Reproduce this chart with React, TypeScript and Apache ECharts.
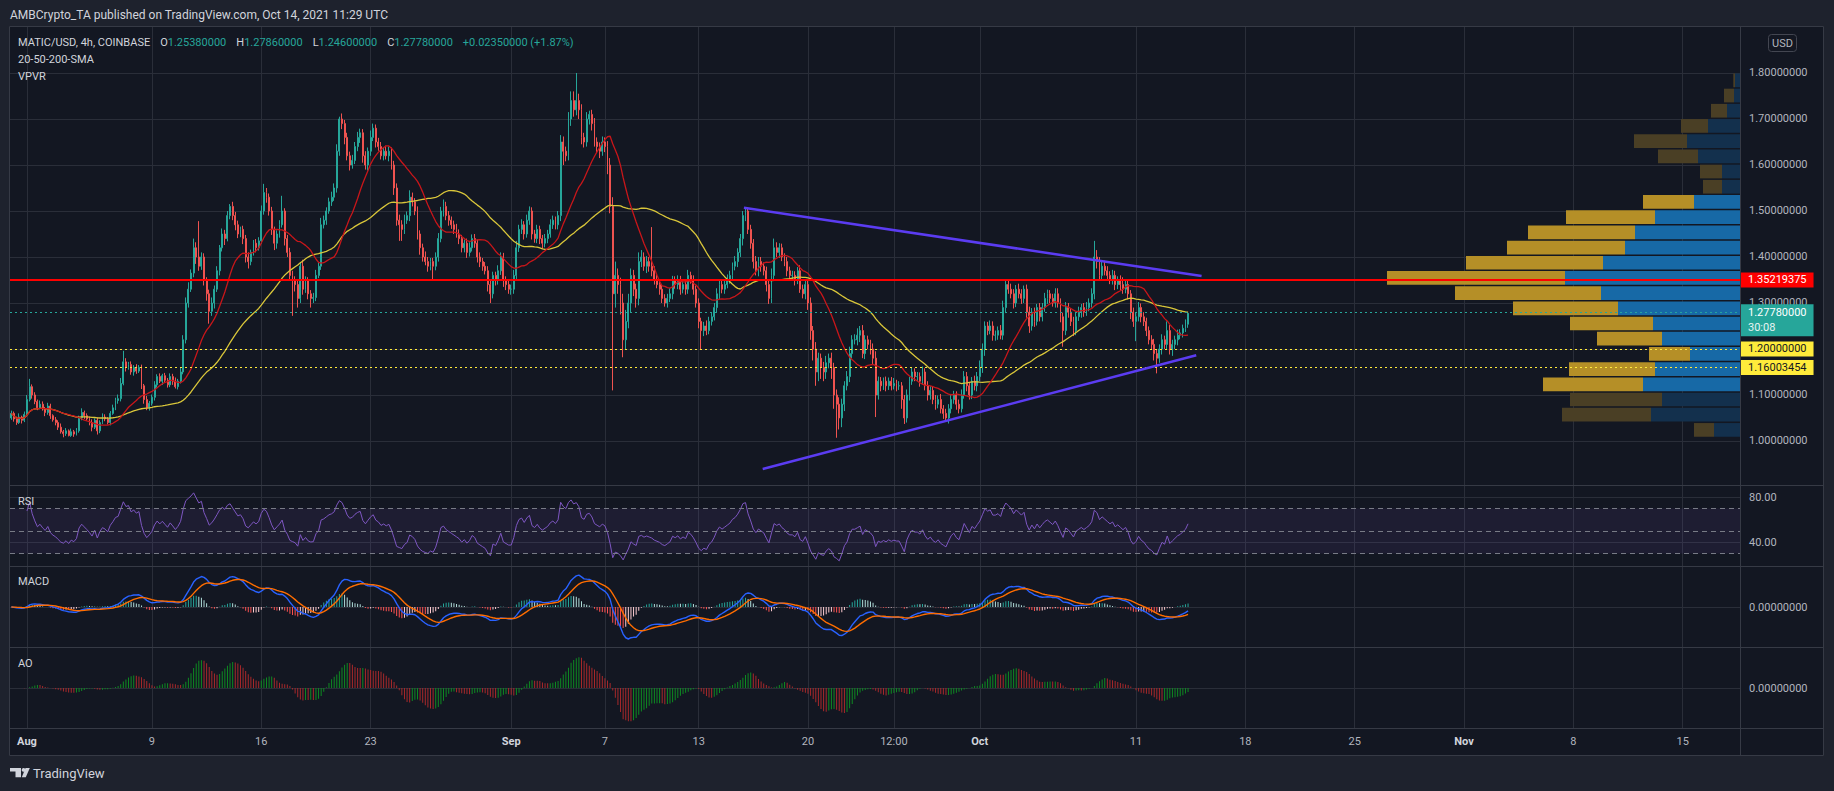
import { useEffect, useRef } from "react";
import * as echarts from "echarts";

const FONT = "Roboto, 'Liberation Sans', 'DejaVu Sans', sans-serif";

// ---------------- texts ----------------
const publishLine = "AMBCrypto_TA published on TradingView.com, Oct 14, 2021 11:29 UTC";
const symbolTitle = "MATIC/USD, 4h, COINBASE";
const indicatorNames = ["20-50-200-SMA", "VPVR"];
const paneNames = ["RSI", "MACD", "AO"];
const countdown = "30:08";

// ---------------- time ----------------
// x unit: days since 2021-08-01 00:00 UTC
const firstBarDay = -1; // 2021-07-31 00:00 UTC
const barsPerDay = 6; // 4h bars
const viewStartDay = -1.088;
const viewEndDay = 109.67;
const timeTicks = [0, 8, 15, 22, 31, 37, 43, 50, 55.5, 61, 71, 78, 85, 92, 99, 106];
const timeLabels = ["Aug", "9", "16", "23", "Sep", "7", "13", "20", "12:00", "Oct", "11", "18", "25", "Nov", "8", "15"];
const monthLabels = ["Aug", "Sep", "Oct", "Nov"];

// ---------------- prices (4h closes, 6 per day) ----------------
const closes = [
  1.060, 1.048, 1.040, 1.052, 1.045, 1.058, // Jul 31
  1.090, 1.118, 1.100, 1.086, 1.072, 1.080, // Aug 1
  1.070, 1.062, 1.076, 1.055, 1.046, 1.040,
  1.030, 1.020, 1.016, 1.022, 1.012, 1.020,
  1.015, 1.022, 1.050, 1.062, 1.055, 1.048,
  1.040, 1.030, 1.045, 1.022, 1.040, 1.052,
  1.048, 1.040, 1.060, 1.072, 1.088, 1.092,
  1.125, 1.172, 1.160, 1.166, 1.150, 1.160,
  1.152, 1.160, 1.120, 1.090, 1.072, 1.082,
  1.095, 1.122, 1.140, 1.130, 1.142, 1.132, // Aug 9
  1.122, 1.140, 1.130, 1.118, 1.130, 1.150,
  1.220, 1.300, 1.330, 1.365, 1.420, 1.400,
  1.380, 1.400, 1.350, 1.320, 1.282, 1.300,
  1.330, 1.370, 1.420, 1.450, 1.440, 1.490,
  1.510, 1.490, 1.470, 1.450, 1.460, 1.440,
  1.400, 1.390, 1.410, 1.430, 1.420, 1.435,
  1.500, 1.540, 1.530, 1.500, 1.460, 1.430, // Aug 16
  1.450, 1.470, 1.500, 1.440, 1.410, 1.360,
  1.350, 1.340, 1.310, 1.380, 1.330, 1.350,
  1.320, 1.310, 1.312, 1.360, 1.380, 1.470,
  1.480, 1.500, 1.520, 1.530, 1.550, 1.630,
  1.700, 1.690, 1.660, 1.620, 1.600, 1.610,
  1.640, 1.660, 1.670, 1.620, 1.600, 1.630,
  1.660, 1.680, 1.650, 1.640, 1.620, 1.630, // Aug 23
  1.620, 1.630, 1.600, 1.550, 1.480, 1.470,
  1.460, 1.480, 1.490, 1.530, 1.520, 1.500,
  1.450, 1.420, 1.400, 1.390, 1.380, 1.390,
  1.380, 1.400, 1.440, 1.500, 1.510, 1.490,
  1.480, 1.470, 1.460, 1.450, 1.440, 1.420,
  1.430, 1.410, 1.420, 1.440, 1.430, 1.400,
  1.390, 1.380, 1.370, 1.340, 1.320, 1.360,
  1.350, 1.370, 1.400, 1.350, 1.340, 1.330, // Aug 31
  1.330, 1.360, 1.420, 1.460, 1.470, 1.450, // Sep 1
  1.480, 1.500, 1.450, 1.440, 1.460, 1.440,
  1.430, 1.440, 1.450, 1.470, 1.480, 1.470,
  1.490, 1.650, 1.630, 1.620, 1.700, 1.740,
  1.720, 1.740, 1.720, 1.660, 1.650, 1.700,
  1.710, 1.690, 1.650, 1.640, 1.630, 1.650,
  1.640, 1.600, 1.510, 1.320, 1.360, 1.340, // Sep 7
  1.300, 1.220, 1.260, 1.300, 1.360, 1.330,
  1.310, 1.390, 1.400, 1.380, 1.390, 1.380,
  1.370, 1.350, 1.340, 1.330, 1.310, 1.300,
  1.310, 1.320, 1.350, 1.340, 1.350, 1.330,
  1.340, 1.330, 1.360, 1.350, 1.330, 1.300,
  1.260, 1.240, 1.250, 1.240, 1.260, 1.270, // Sep 13
  1.290, 1.320, 1.340, 1.330, 1.340, 1.350,
  1.360, 1.380, 1.390, 1.410, 1.440, 1.490,
  1.500, 1.460, 1.430, 1.390, 1.370, 1.390,
  1.380, 1.370, 1.340, 1.310, 1.360, 1.420,
  1.410, 1.420, 1.400, 1.390, 1.370, 1.360,
  1.360, 1.350, 1.370, 1.330, 1.320, 1.340,
  1.300, 1.240, 1.200, 1.150, 1.180, 1.160, // Sep 20
  1.150, 1.170, 1.180, 1.160, 1.100, 1.080,
  1.050, 1.080, 1.120, 1.140, 1.190, 1.220,
  1.220, 1.230, 1.240, 1.190, 1.220, 1.210,
  1.200, 1.180, 1.100, 1.130, 1.120, 1.130,
  1.120, 1.130, 1.120, 1.125, 1.120, 1.120,
  1.090, 1.050, 1.100, 1.130, 1.150, 1.140,
  1.140, 1.130, 1.150, 1.120, 1.100, 1.110, // Sep 27
  1.090, 1.080, 1.090, 1.070, 1.060, 1.050,
  1.070, 1.090, 1.100, 1.080, 1.070, 1.100,
  1.140, 1.120, 1.100, 1.130, 1.120, 1.140,
  1.160, 1.200, 1.250, 1.240, 1.250, 1.230, // Oct 1
  1.230, 1.240, 1.230, 1.290, 1.340, 1.330,
  1.320, 1.300, 1.330, 1.320, 1.310, 1.330,
  1.280, 1.250, 1.280, 1.260, 1.290, 1.270,
  1.290, 1.310, 1.320, 1.310, 1.300, 1.320,
  1.300, 1.270, 1.240, 1.290, 1.280, 1.260,
  1.240, 1.270, 1.280, 1.290, 1.280, 1.290,
  1.300, 1.320, 1.400, 1.390, 1.360, 1.380, // Oct 8
  1.370, 1.360, 1.350, 1.360, 1.340, 1.350,
  1.340, 1.330, 1.340, 1.320, 1.280, 1.260,
  1.270, 1.290, 1.270, 1.260, 1.240, 1.220, // Oct 11
  1.210, 1.190, 1.180, 1.200, 1.220, 1.210,
  1.240, 1.200, 1.210, 1.220, 1.230, 1.235,
  1.245, 1.2543, 1.2778, // Oct 14
];

// wick lengths above / below the body, in thousandths of a dollar
const wickUp = [
  6, 4, 5, 8, 3, 6, 10, 17, 5, 6, 4, 8, 6, 4, 7, 5, 3, 6, 5, 8, 4, 6, 3, 7,
  4, 6, 5, 9, 4, 5, 5, 7, 4, 6, 5, 8, 6, 4, 5, 7, 6, 9, 12, 24, 8, 6, 7, 5,
  7, 5, 6, 4, 8, 5, 6, 8, 5, 7, 4, 6, 5, 7, 6, 8, 5, 9, 10, 12, 15, 8, 20, 12,
  78, 10, 8, 6, 9, 12, 8, 10, 6, 12, 9, 10, 5, 10, 8, 9, 6, 8, 8, 10, 6, 7, 9, 8,
  12, 19, 10, 8, 9, 6, 8, 10, 33, 6, 8, 10, 10, 8, 12, 9, 14, 8, 6, 8, 10, 12, 9, 15,
  10, 8, 9, 12, 10, 15, 5, 12, 8, 10, 9, 12, 10, 12, 9, 8, 10, 8, 15, 10, 8, 9, 10, 8,
  12, 10, 8, 9, 10, 12, 10, 12, 9, 15, 10, 8, 10, 8, 9, 12, 10, 8, 8, 10, 12, 9, 15, 10,
  10, 8, 9, 12, 10, 8, 8, 10, 12, 9, 10, 8, 10, 8, 9, 10, 12, 8, 8, 12, 10, 9, 8, 10,
  10, 12, 15, 10, 12, 8, 12, 10, 8, 9, 10, 8, 8, 10, 9, 12, 10, 8, 10, 15, 12, 10, 15, 20,
  20, 60, 15, 12, 10, 15, 8, 10, 12, 10, 9, 12, 10, 12, 15, 20, 30, 15, 15, 20, 25, 20, 15, 12,
  12, 20, 15, 10, 12, 10, 85, 10, 12, 8, 10, 9, 10, 12, 9, 8, 10, 9, 10, 9, 12, 8, 10, 8,
  10, 8, 9, 12, 10, 8, 10, 12, 9, 8, 10, 12, 10, 8, 12, 9, 10, 10, 6, 8, 10, 9, 12, 10,
  10, 8, 9, 12, 15, 20, 12, 10, 9, 8, 10, 9, 10, 9, 8, 12, 10, 9, 10, 12, 10, 15, 12, 10,
  12, 15, 10, 12, 10, 12, 15, 12, 10, 12, 15, 10, 12, 15, 10, 12, 10, 9, 10, 12, 15, 10, 9, 8,
  10, 8, 9, 12, 8, 10, 8, 10, 12, 9, 10, 8, 10, 9, 12, 8, 10, 9, 8, 10, 9, 12, 8, 10,
  10, 12, 9, 8, 10, 12, 12, 10, 8, 9, 12, 10, 15, 12, 10, 9, 12, 10, 10, 9, 12, 15, 10, 12,
  12, 10, 9, 12, 10, 8, 10, 12, 9, 10, 8, 10, 10, 12, 9, 8, 10, 12, 12, 10, 9, 12, 10, 9,
  10, 9, 12, 8, 10, 12, 10, 12, 35, 15, 10, 12, 12, 10, 9, 12, 10, 8, 10, 16, 10, 9, 8, 10,
  10, 12, 9, 10, 8, 9, 10, 12, 8, 10, 12, 9, 20, 12, 10, 9, 12, 8, 8, 10, 0.8,
];
const wickDown = [
  4, 6, 5, 3, 7, 4, 5, 4, 8, 6, 5, 3, 4, 8, 5, 7, 4, 6, 6, 4, 8, 5, 2, 3,
  6, 3, 4, 5, 7, 4, 6, 9, 4, 8, 5, 3, 5, 4, 6, 3, 5, 7, 6, 4, 9, 5, 6, 8,
  6, 4, 7, 9, 5, 6, 5, 7, 6, 4, 8, 5, 6, 5, 8, 4, 6, 5, 5, 8, 10, 6, 9, 15,
  10, 8, 12, 15, 27, 10, 12, 6, 10, 8, 14, 6, 8, 10, 12, 9, 7, 12, 12, 15, 8, 7, 10, 6,
  6, 8, 12, 10, 12, 15, 12, 8, 6, 15, 10, 12, 78, 15, 20, 10, 12, 8, 12, 20, 10, 8, 6, 8,
  8, 10, 6, 9, 8, 10, 10, 12, 15, 10, 12, 8, 8, 10, 12, 15, 10, 12, 10, 8, 12, 9, 8, 10,
  8, 12, 10, 15, 12, 35, 25, 10, 8, 12, 10, 9, 12, 15, 10, 8, 12, 9, 30, 9, 10, 8, 12, 10,
  12, 9, 10, 8, 12, 10, 10, 12, 9, 8, 10, 12, 12, 10, 8, 15, 20, 10, 12, 10, 9, 15, 12, 10,
  12, 10, 8, 9, 10, 12, 8, 10, 12, 9, 10, 12, 12, 9, 10, 8, 9, 10, 10, 12, 30, 12, 10, 15,
  15, 12, 20, 15, 12, 10, 12, 15, 10, 12, 15, 10, 12, 20, 15, 210, 30, 20, 25, 38, 20, 15, 20, 15,
  20, 15, 12, 10, 15, 12, 12, 10, 8, 12, 10, 8, 10, 8, 12, 9, 10, 12, 9, 12, 10, 8, 12, 10,
  15, 40, 12, 10, 8, 9, 8, 10, 12, 9, 10, 8, 8, 10, 9, 12, 10, 15, 12, 10, 12, 15, 10, 12,
  12, 10, 15, 12, 10, 8, 10, 12, 9, 10, 12, 10, 10, 12, 9, 8, 10, 12, 15, 20, 25, 30, 20, 25,
  20, 15, 12, 25, 30, 73, 25, 20, 15, 10, 12, 10, 10, 12, 15, 10, 12, 10, 12, 15, 48, 10, 12, 9,
  12, 9, 10, 8, 12, 9, 20, 13, 10, 12, 8, 10, 10, 12, 8, 10, 12, 10, 10, 12, 9, 10, 12, 8,
  12, 10, 9, 12, 10, 8, 8, 12, 10, 9, 10, 12, 10, 12, 15, 10, 8, 12, 12, 10, 9, 10, 12, 10,
  10, 12, 9, 10, 12, 10, 12, 15, 10, 12, 9, 10, 10, 9, 12, 10, 8, 10, 10, 12, 35, 10, 12, 10,
  12, 10, 9, 12, 10, 8, 8, 10, 12, 15, 12, 10, 10, 12, 9, 10, 12, 10, 12, 10, 9, 12, 15, 12,
  43, 10, 12, 10, 12, 10, 12, 15, 33, 10, 12, 10, 10, 12, 15, 10, 12, 9, 10, 8, 7.8,
];
const firstOpen = 1.05;
const lastBarOpen = 1.2538;

// ---------------- drawn levels ----------------
const resistanceLevel = 1.35219375;
const supportLevels = [1.2, 1.16003454];
const trendUpper = [[45.9, 1.507], [75.2, 1.3587]];
const trendLower = [[47.1, 0.939], [74.86, 1.1863]];

// ---------------- axes ----------------
const priceMin = 0.9043;
const priceMax = 1.9;
const priceTicks = [1.0, 1.1, 1.2, 1.3, 1.4, 1.5, 1.6, 1.7, 1.8];
const rsiMin = 18.93;
const rsiMax = 90.04;
const rsiTicks = [40, 80];
const rsiBandLevels = [70, 50, 30];

// ---------------- volume profile (24 rows, bottom -> top) ----------------
const vpvrUpVol = [26, 89, 78, 97, 85, 50, 78, 87, 122, 139, 175, 137, 115, 105, 85, 46, 18, 18, 42, 53, 32, 13, 6, 5];
const vpvrDownVol = [20, 89, 92, 100, 86, 41, 65, 83, 105, 146, 178, 137, 118, 107, 89, 51, 19, 22, 40, 53, 27, 16, 10, 1.7];
const vpvrInValueArea = [0, 0, 0, 1, 1, 1, 1, 1, 1, 1, 1, 1, 1, 1, 1, 1, 0, 0, 0, 0, 0, 0, 0, 0];

const COL = {
  frame: "#1e222d",
  grid: "#2a2e39",
  sep: "#363a45",
  text: "#d1d4dc",
  axisText: "#b2b5be",
  up: "#26a69a",
  down: "#ef5350",
  sma20: "#c8161a",
  sma50: "#d9c63a",
  trend: "#5b3cf2",
  rsi: "#7e57c2",
  macd: "#2962ff",
  signal: "#ff6d00",
  aoUp: "#0e8a22",
  aoDown: "#a8292b",
  vpBlue: "#1769a6",
  vpGold: "#b58f27",
  vpBlueDim: "#13304d",
  vpGoldDim: "#4a3f25",
};

function sma(v: number[], n: number) {
  const out: number[] = [];
  let s = 0;
  for (let i = 0; i < v.length; i++) {
    s += v[i];
    if (i >= n) s -= v[i - n];
    out.push(s / Math.min(i + 1, n));
  }
  return out;
}
function ema(v: number[], n: number) {
  const k = 2 / (n + 1);
  const out: number[] = [];
  v.forEach((x, i) => out.push(i === 0 ? x : out[i - 1] + k * (x - out[i - 1])));
  return out;
}
function rsiCalc(v: number[], n: number) {
  const out: (number | null)[] = [null];
  let ag = 0, al = 0;
  for (let i = 1; i < v.length; i++) {
    const ch = v[i] - v[i - 1];
    const g = Math.max(ch, 0), l = Math.max(-ch, 0);
    if (i <= n) { ag = (ag * (i - 1) + g) / i; al = (al * (i - 1) + l) / i; }
    else { ag = (ag * (n - 1) + g) / n; al = (al * (n - 1) + l) / n; }
    out.push(al === 0 ? 100 : 100 - 100 / (1 + ag / al));
  }
  return out;
}

function buildOption() {
  const n = closes.length;
  const t = closes.map((_, i) => firstBarDay + i / barsPerDay);
  const opens = closes.map((c, i) => (i === n - 1 ? lastBarOpen : i === 0 ? firstOpen : closes[i - 1]));
  const highs = closes.map((c, i) => Math.max(opens[i], c) + wickUp[i] / 1000);
  const lows = closes.map((c, i) => Math.min(opens[i], c) - wickDown[i] / 1000);
  const candleData = closes.map((c, i) => [t[i], opens[i], c, lows[i], highs[i]]);
  const lastClose = closes[n - 1];
  const prevClose = closes[n - 2];
  const change = lastClose - prevClose;
  const pct = (change / prevClose) * 100;

  const sma20 = sma(closes, 20);
  const sma50 = sma(closes, 50);

  const rsi = rsiCalc(closes, 14);
  const e12 = ema(closes, 12), e26 = ema(closes, 26);
  const macd = e12.map((v, i) => v - e26[i]);
  const signal = ema(macd, 9);
  const hist = macd.map((v, i) => v - signal[i]);
  const median = highs.map((h, i) => (h + lows[i]) / 2);
  const s5 = sma(median, 5), s34 = sma(median, 34);
  const ao = s5.map((v, i) => v - s34[i]);

  const macdRange = Math.max(...macd.map(Math.abs), ...signal.map(Math.abs)) * 1.25;
  const aoRange = Math.max(...ao.map(Math.abs)) * 1.2;

  const minLow = Math.min(...lows);
  const maxHigh = Math.max(...highs);
  const rows = vpvrUpVol.length;
  const step = (maxHigh - minLow) / rows;
  const vpData = vpvrUpVol.map((u, k) => [minLow + k * step, minLow + (k + 1) * step, u, vpvrDownVol[k], vpvrInValueArea[k]]);

  const axisLbl = { color: COL.axisText, fontSize: 11, fontFamily: FONT, margin: 9 };

  const timeAxis = (gridIndex: number, labels: boolean) => ({
    type: "value",
    gridIndex,
    min: viewStartDay,
    max: viewEndDay,
    axisLine: { show: false, onZero: false },
    axisTick: { show: false, customValues: timeTicks },
    splitLine: { show: true, lineStyle: { color: COL.grid, width: 1 } },
    axisLabel: labels
      ? {
          show: true,
          customValues: timeTicks,
          ...axisLbl,
          margin: 8,
          formatter: (v: number) => {
            const i = timeTicks.findIndex((x) => Math.abs(x - v) < 1e-6);
            if (i < 0) return "";
            const s = timeLabels[i];
            return monthLabels.includes(s) ? `{m|${s}}` : s;
          },
          rich: { m: { fontWeight: "bold", color: COL.text, fontSize: 11, fontFamily: FONT } },
        }
      : { show: false },
  });

  const valueAxis = (gridIndex: number, min: number, max: number, ticks: number[], digits: number) => ({
    type: "value",
    gridIndex,
    position: "right",
    min,
    max,
    axisLine: { show: false },
    axisTick: { show: false, customValues: ticks },
    splitLine: { show: true, lineStyle: { color: COL.grid, width: 1 } },
    axisLabel: { ...axisLbl, customValues: ticks, formatter: (v: number) => v.toFixed(digits) },
  });

  const lvlLabel = (bg: string, fg: string, text: string) => ({
    show: true,
    position: "end",
    distance: 1,
    formatter: text,
    backgroundColor: bg,
    color: fg,
    padding: [2, 7, 2, 7],
    fontSize: 11,
    fontFamily: FONT,
  });

  const textEl = (text: string, x: number, y: number, size = 11, fill = COL.text) => ({
    type: "text",
    z: 100,
    silent: true,
    style: { text, x, y, fill, fontSize: size, fontFamily: FONT, textVerticalAlign: "middle", verticalAlign: "middle" },
  });

  const legendRich = [
    `{t|${symbolTitle}}{s|}{t|O}{v|${opens[n - 1].toFixed(8)}}{s|}{t|H}{v|${highs[n - 1].toFixed(8)}}{s|}{t|L}{v|${lows[n - 1].toFixed(8)}}{s|}{t|C}{v|${lastClose.toFixed(8)}}{s|}{v|${change >= 0 ? "+" : ""}${change.toFixed(8)} (${pct >= 0 ? "+" : ""}${pct.toFixed(2)}%)}`,
  ].join("");

  const hLine = (y: number) => ({
    type: "line",
    z: 90,
    silent: true,
    shape: { x1: 9, y1: y, x2: 1824, y2: y },
    style: { stroke: COL.sep, lineWidth: 1 },
  });

  return {
    animation: false,
    backgroundColor: "#131722",
    textStyle: { fontFamily: FONT },
    grid: [
      { left: 10, top: 27, width: 1730, height: 458, outerBoundsMode: "none" },
      { left: 10, top: 486, width: 1730, height: 80, outerBoundsMode: "none" },
      { left: 10, top: 567, width: 1730, height: 80, outerBoundsMode: "none" },
      { left: 10, top: 648, width: 1730, height: 80, outerBoundsMode: "none" },
      { left: 1380, top: 27, width: 360, height: 458, outerBoundsMode: "none" },
    ],
    xAxis: [
      timeAxis(0, false),
      timeAxis(1, false),
      timeAxis(2, false),
      timeAxis(3, true),
      { type: "value", gridIndex: 4, min: 0, max: 360, inverse: true, show: false, axisLine: { onZero: false } },
    ],
    yAxis: [
      valueAxis(0, priceMin, priceMax, priceTicks, 8),
      valueAxis(1, rsiMin, rsiMax, rsiTicks, 2),
      valueAxis(2, -macdRange, macdRange, [0], 8),
      valueAxis(3, -aoRange, aoRange, [0], 8),
      { type: "value", gridIndex: 4, min: priceMin, max: priceMax, show: false },
    ],
    series: [
      {
        type: "custom",
        name: "VPVR",
        xAxisIndex: 4,
        yAxisIndex: 4,
        z: 1,
        silent: true,
        encode: { x: 2, y: 0 },
        data: vpData,
        renderItem: (_p: any, api: any) => {
          const lo = api.value(0), hi = api.value(1), upV = api.value(2), dnV = api.value(3), va = api.value(4);
          const right = api.coord([0, hi]);
          const bottom = api.coord([0, lo]);
          const mid = api.coord([upV, hi]);
          const left = api.coord([upV + dnV, hi]);
          const y = right[1] + 0.5;
          const h = bottom[1] - right[1] - 1.5;
          return {
            type: "group",
            children: [
              { type: "rect", shape: { x: mid[0], y, width: right[0] - mid[0], height: h }, style: { fill: va ? COL.vpBlue : COL.vpBlueDim } },
              { type: "rect", shape: { x: left[0], y, width: mid[0] - left[0], height: h }, style: { fill: va ? COL.vpGold : COL.vpGoldDim } },
            ],
          };
        },
      },
      {
        type: "candlestick",
        name: "MATIC/USD",
        xAxisIndex: 0,
        yAxisIndex: 0,
        z: 3,
        barWidth: 1.4,
        encode: { x: 0, y: [1, 2, 3, 4] },
        data: candleData,
        itemStyle: { color: COL.up, color0: COL.down, borderColor: COL.up, borderColor0: COL.down, borderWidth: 1 },
        markLine: {
          silent: true,
          symbol: ["none", "none"],
          animation: false,
          data: [
            { yAxis: supportLevels[0], lineStyle: { color: "#ffeb3b", width: 1, type: [2, 3] }, label: lvlLabel("#ffeb3b", "#131722", supportLevels[0].toFixed(8)) },
            { yAxis: supportLevels[1], lineStyle: { color: "#ffeb3b", width: 1, type: [2, 3] }, label: lvlLabel("#ffeb3b", "#131722", supportLevels[1].toFixed(8)) },
            {
              yAxis: lastClose,
              lineStyle: { color: COL.up, width: 1, type: [2, 3] },
              label: {
                show: true,
                position: "end",
                distance: 1,
                formatter: `{p|${lastClose.toFixed(8)}}\n{c|${countdown}}`,
                backgroundColor: COL.up,
                padding: [1, 7, 1, 7],
                verticalAlign: "top",
                offset: [0, -8],
                rich: {
                  p: { color: "#ffffff", fontSize: 11, lineHeight: 15, fontFamily: FONT },
                  c: { color: "#e6f4f2", fontSize: 11, lineHeight: 15, fontFamily: FONT },
                },
              },
            },
            { yAxis: resistanceLevel, lineStyle: { color: "#ff0000", width: 2, type: "solid" }, label: lvlLabel("#ff0000", "#ffffff", resistanceLevel.toFixed(8)) },
          ],
        },
      },
      {
        type: "line",
        name: "SMA 50",
        xAxisIndex: 0,
        yAxisIndex: 0,
        z: 4,
        showSymbol: false,
        data: sma50.map((v, i) => [t[i], v]),
        lineStyle: { color: COL.sma50, width: 1.3 },
      },
      {
        type: "line",
        name: "SMA 20",
        xAxisIndex: 0,
        yAxisIndex: 0,
        z: 4,
        showSymbol: false,
        data: sma20.map((v, i) => [t[i], v]),
        lineStyle: { color: COL.sma20, width: 1.3 },
      },
      { type: "line", name: "Upper trend", xAxisIndex: 0, yAxisIndex: 0, z: 5, showSymbol: false, data: trendUpper, lineStyle: { color: COL.trend, width: 2.5 } },
      { type: "line", name: "Lower trend", xAxisIndex: 0, yAxisIndex: 0, z: 5, showSymbol: false, data: trendLower, lineStyle: { color: COL.trend, width: 2.5 } },
      {
        type: "line",
        name: "RSI",
        xAxisIndex: 1,
        yAxisIndex: 1,
        z: 4,
        showSymbol: false,
        data: rsi.map((v, i) => (v == null || i < 6 ? null : [t[i], v])).filter((d) => d != null),
        lineStyle: { color: COL.rsi, width: 1 },
        markArea: { silent: true, itemStyle: { color: "rgba(126,87,194,0.1)" }, data: [[{ yAxis: rsiBandLevels[2] }, { yAxis: rsiBandLevels[0] }]] },
        markLine: {
          silent: true,
          symbol: ["none", "none"],
          label: { show: false },
          lineStyle: { color: "#787b86", width: 1, type: [5, 4] },
          data: rsiBandLevels.map((v) => ({ yAxis: v })),
        },
      },
      {
        type: "bar",
        name: "Histogram",
        xAxisIndex: 2,
        yAxisIndex: 2,
        barWidth: 1,
        z: 2,
        data: hist.map((v, i) => {
          const prev = i > 0 ? hist[i - 1] : v;
          const color = v >= 0 ? (v >= prev ? "#26a69a" : "#b2dfdb") : v < prev ? "#ff5252" : "#ffcdd2";
          return { value: [t[i], v], itemStyle: { color } };
        }),
      },
      { type: "line", name: "MACD", xAxisIndex: 2, yAxisIndex: 2, z: 4, showSymbol: false, data: macd.map((v, i) => [t[i], v]), lineStyle: { color: COL.macd, width: 1.4 } },
      { type: "line", name: "Signal", xAxisIndex: 2, yAxisIndex: 2, z: 4, showSymbol: false, data: signal.map((v, i) => [t[i], v]), lineStyle: { color: COL.signal, width: 1.4 } },
      {
        type: "bar",
        name: "AO",
        xAxisIndex: 3,
        yAxisIndex: 3,
        barWidth: 1,
        z: 2,
        data: ao.map((v, i) => {
          const prev = i > 0 ? ao[i - 1] : v;
          return { value: [t[i], v], itemStyle: { color: v >= prev ? COL.aoUp : COL.aoDown } };
        }),
      },
    ],
    graphic: [
      { type: "rect", z: 80, silent: true, shape: { x: 0, y: 0, width: 1834, height: 26 }, style: { fill: COL.frame } },
      { type: "rect", z: 80, silent: true, shape: { x: 0, y: 756, width: 1834, height: 35 }, style: { fill: COL.frame } },
      { type: "rect", z: 80, silent: true, shape: { x: 0, y: 0, width: 9, height: 791 }, style: { fill: COL.frame } },
      { type: "rect", z: 80, silent: true, shape: { x: 1824, y: 0, width: 10, height: 791 }, style: { fill: COL.frame } },
      { type: "rect", z: 90, silent: true, shape: { x: 9.5, y: 26.5, width: 1814, height: 729 }, style: { fill: "none", stroke: COL.sep, lineWidth: 1 } },
      hLine(485.5),
      hLine(566.5),
      hLine(647.5),
      hLine(728.5),
      { type: "line", z: 90, silent: true, shape: { x1: 1740.5, y1: 27, x2: 1740.5, y2: 756 }, style: { stroke: COL.sep, lineWidth: 1 } },
      textEl(publishLine, 10, 15, 12, COL.text),
      {
        type: "text",
        z: 100,
        silent: true,
        style: {
          text: legendRich,
          x: 18,
          y: 42,
          fontSize: 11,
          fontFamily: FONT,
          verticalAlign: "middle",
          rich: {
            t: { fill: COL.text, color: COL.text, fontSize: 11, fontFamily: FONT },
            v: { fill: COL.up, color: COL.up, fontSize: 11, fontFamily: FONT },
            s: { width: 10 },
          },
        },
      },
      textEl(indicatorNames[0], 18, 59),
      textEl(indicatorNames[1], 18, 76),
      textEl(paneNames[0], 18, 501),
      textEl(paneNames[1], 18, 581.5),
      textEl(paneNames[2], 18, 663),
      { type: "rect", z: 100, silent: true, shape: { x: 1768.5, y: 34.5, width: 28, height: 17, r: 3 }, style: { fill: "#131722", stroke: "#434651", lineWidth: 1 } },
      { type: "text", z: 101, silent: true, style: { text: "USD", x: 1782.5, y: 43, fill: COL.axisText, fontSize: 11, fontFamily: FONT, align: "center", verticalAlign: "middle" } },
      // TradingView footer mark
      { type: "polygon", z: 100, silent: true, shape: { points: [[10, 768], [21, 768], [21, 777.3], [15.5, 777.3], [15.5, 771.5], [10, 771.5]] }, style: { fill: COL.text } },
      { type: "circle", z: 100, silent: true, shape: { cx: 23.6, cy: 769.9, r: 1.9 }, style: { fill: COL.text } },
      { type: "polygon", z: 100, silent: true, shape: { points: [[25.5, 768], [29.8, 768], [25.8, 777.3], [21.8, 777.3]] }, style: { fill: COL.text } },
      textEl("TradingView", 33, 773, 13, COL.text),
    ],
  };
}

export default function App() {
  const ref = useRef<HTMLDivElement>(null);
  useEffect(() => {
    if (!ref.current) return;
    const chart = echarts.init(ref.current, undefined, { renderer: "svg" });
    chart.setOption(buildOption() as any);
    return () => chart.dispose();
  }, []);
  return <div ref={ref} style={{ position: "fixed", left: 0, top: 0, width: 1834, height: 791 }} />;
}
